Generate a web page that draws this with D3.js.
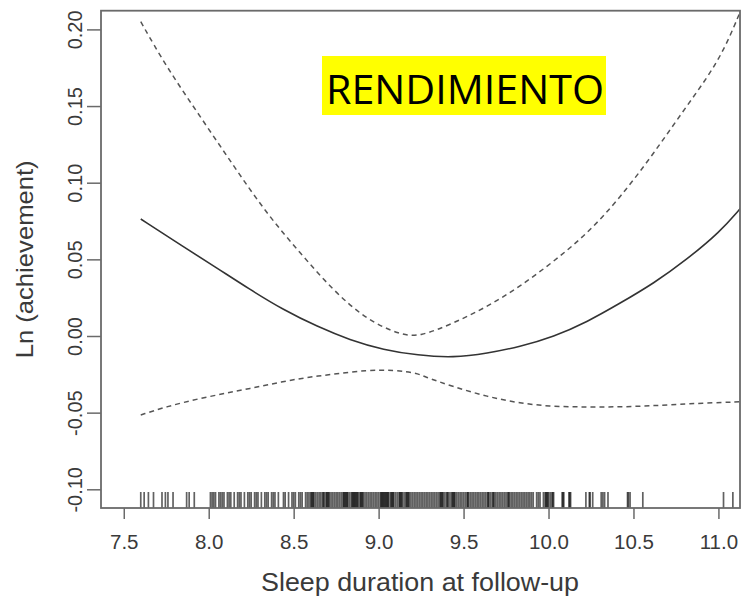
<!DOCTYPE html>
<html>
<head>
<meta charset="utf-8">
<script src="https://cdn.jsdelivr.net/npm/d3@7"></script>
<style>
  body { margin: 0; background: #fff; }
  svg { display: block; }
  .tick-label { font-family: "Liberation Sans", Arial, sans-serif; fill: #3a3a3a; }
</style>
</head>
<body>
<div id="chart"></div>
<script>
// fitted spline and confidence band
const fitX   = [7.60, 7.85, 8.05, 8.24, 8.44, 8.64, 8.83, 9.03, 9.23, 9.44, 9.64, 9.83, 10.03, 10.23, 10.42, 10.62, 10.81, 11.01, 11.13];
const fitY   = [0.0763, 0.0583, 0.0442, 0.0305, 0.0170, 0.0061, -0.0026, -0.0091, -0.0126, -0.0142, -0.0113, -0.0070, -0.0005, 0.0093, 0.0213, 0.0344, 0.0496, 0.0680, 0.0833];
const upperX = [7.60, 7.75, 7.95, 8.15, 8.34, 8.54, 8.73, 8.93, 9.13, 9.24, 9.44, 9.64, 9.83, 10.03, 10.23, 10.42, 10.62, 10.81, 11.01, 11.13];
const upperY = [0.2050, 0.1757, 0.1431, 0.1104, 0.0800, 0.0539, 0.0300, 0.0104, 0.0007, -0.0005, 0.0083, 0.0191, 0.0322, 0.0485, 0.0670, 0.0900, 0.1192, 0.1496, 0.1800, 0.2120];
const lowerX = [7.60, 7.75, 7.95, 8.15, 8.34, 8.54, 8.73, 8.93, 9.09, 9.23, 9.26, 9.44, 9.64, 9.83, 10.03, 10.23, 10.42, 10.62, 10.81, 11.13];
const lowerY = [-0.0515, -0.0461, -0.0406, -0.0363, -0.0320, -0.0275, -0.0250, -0.0222, -0.0222, -0.0243, -0.0262, -0.0331, -0.0396, -0.0439, -0.0461, -0.0463, -0.0463, -0.0455, -0.0442, -0.0429];

// rug of observed sleep durations
const rugValues = [
  7.60, 7.62, 7.645, 7.675, 7.725, 7.745, 7.76, 7.79, 7.87, 7.885, 7.915,
  8.01, 8.03, 8.04, 8.06, 8.07, 8.09, 8.11, 8.13, 8.15, 8.17, 8.19, 8.21, 8.23, 8.25,
  8.27, 8.29, 8.31, 8.33, 8.35, 8.37, 8.39, 8.41, 8.45, 8.47, 8.49, 8.51, 8.53, 8.55,
  8.57, 8.59, 8.60, 8.61, 8.62, 8.64, 8.66, 8.67, 8.68, 8.70, 8.71, 8.73, 8.75, 8.77,
  8.79, 8.80, 8.81, 8.82, 8.83, 8.85, 8.86, 8.87, 8.89, 8.90, 8.91, 8.93, 8.95, 8.97,
  8.99, 9.01, 9.02, 9.03, 9.04, 9.05, 9.07, 9.08, 9.10, 9.12, 9.13, 9.14, 9.16, 9.17,
  9.18, 9.20, 9.22, 9.24, 9.26, 9.28, 9.30, 9.32, 9.34, 9.36, 9.37, 9.38, 9.40, 9.41,
  9.43, 9.44, 9.45, 9.47, 9.49, 9.50, 9.52, 9.53, 9.55, 9.56, 9.58, 9.60, 9.62, 9.64,
  9.65, 9.67, 9.68, 9.70, 9.72, 9.74, 9.76, 9.77, 9.79, 9.81, 9.83, 9.85, 9.87, 9.89,
  9.90, 9.93, 9.95, 9.97, 9.99, 9.995, 10.00, 10.02, 10.03, 10.08, 10.09, 10.12, 10.13,
  10.22, 10.24, 10.26, 10.31, 10.33, 10.35, 10.465, 10.48, 10.555, 11.03, 11.085,
  // repeated durations (darker bands)
  8.02, 8.08, 8.12, 8.18, 8.24, 8.28, 8.34, 8.38, 8.44, 8.50, 8.54, 8.58,
  8.605, 8.615, 8.63, 8.65, 8.675, 8.69, 8.695, 8.705, 8.72, 8.74, 8.76, 8.78,
  8.795, 8.805, 8.815, 8.84, 8.845, 8.855, 8.865, 8.875, 8.88, 8.895, 8.905, 8.92,
  8.94, 8.96, 8.98, 9.00, 9.015, 9.025, 9.035, 9.045, 9.055, 9.06, 9.075, 9.085,
  9.09, 9.11, 9.125, 9.135, 9.15, 9.165, 9.175, 9.19, 9.21, 9.23, 9.25, 9.27,
  9.29, 9.31, 9.33, 9.35, 9.365, 9.375, 9.39, 9.405, 9.42, 9.435, 9.445, 9.46,
  9.48, 9.51, 9.525, 9.54, 9.57, 9.59, 9.61, 9.63, 9.645, 9.66, 9.675, 9.69,
  9.71, 9.73, 9.75, 9.765, 9.78, 9.80, 9.82, 9.84, 9.86, 9.88, 9.91, 9.94,
  9.98, 9.985, 10.01, 10.025, 10.085, 10.125, 10.245, 10.32, 10.47
];

const xTicks = [7.5, 8.0, 8.5, 9.0, 9.5, 10.0, 10.5, 11.0];
const yTicks = [-0.10, -0.05, 0.00, 0.05, 0.10, 0.15, 0.20];
const xTitle = "Sleep duration at follow-up";
const yTitle = "Ln (achievement)";
const label = "RENDIMIENTO";

const margin = { top: 10.7, right: 4, bottom: 89, left: 101 };
const width = 744 - margin.left - margin.right;
const height = 597 - margin.top - margin.bottom;

const svg = d3.select("#chart")
  .append("svg")
  .attr("width", 744)
  .attr("height", 597);

const g = svg.append("g")
  .attr("transform", `translate(${margin.left},${margin.top})`);

const x = d3.scaleLinear().domain([7.366, 11.127]).range([0, width]);
const y = d3.scaleLinear().domain([-0.1122, 0.2122]).range([height, 0]);

svg.append("defs").append("clipPath")
  .attr("id", "plot-clip")
  .append("rect")
  .attr("width", width)
  .attr("height", height);

// x axis
const xAxis = g.append("g")
  .attr("transform", `translate(0,${height})`)
  .call(d3.axisBottom(x).tickValues(xTicks).tickSize(11).tickPadding(15)
    .tickFormat(d3.format(".1f")));
xAxis.select(".domain").remove();
xAxis.selectAll("line").attr("stroke", "#6a6a6a").attr("stroke-width", 1.5);
xAxis.selectAll("text")
  .attr("class", "tick-label")
  .attr("font-size", 20.5)
  .attr("fill", "#3a3a3a");

// y axis, labels rotated like R's default
const yAxis = g.append("g")
  .call(d3.axisLeft(y).tickValues(yTicks).tickSize(14)
    .tickFormat(d => d.toFixed(2).replace("\u2212", "-")));
yAxis.select(".domain").remove();
yAxis.selectAll("line").attr("stroke", "#6a6a6a").attr("stroke-width", 1.5);
yAxis.selectAll("text")
  .attr("class", "tick-label")
  .attr("font-size", 20)
  .attr("fill", "#3a3a3a")
  .attr("text-anchor", "middle")
  .attr("x", null)
  .attr("dy", null)
  .attr("transform", "translate(-19,0) rotate(-90)");

// rug
g.append("g")
  .selectAll("line")
  .data(rugValues)
  .join("line")
  .attr("x1", d => x(d))
  .attr("x2", d => x(d))
  .attr("y1", height)
  .attr("y2", height - 16)
  .attr("stroke", "#000")
  .attr("stroke-opacity", 0.62)
  .attr("stroke-width", 1.7);

const plot = g.append("g").attr("clip-path", "url(#plot-clip)");

const line = d3.line()
  .x(d => x(d[0]))
  .y(d => y(d[1]))
  .curve(d3.curveBasis);

plot.append("path")
  .datum(d3.zip(upperX, upperY))
  .attr("fill", "none")
  .attr("stroke", "#555")
  .attr("stroke-width", 1.5)
  .attr("stroke-dasharray", "5,4")
  .attr("d", line);

plot.append("path")
  .datum(d3.zip(lowerX, lowerY))
  .attr("fill", "none")
  .attr("stroke", "#555")
  .attr("stroke-width", 1.5)
  .attr("stroke-dasharray", "5,4")
  .attr("d", line);

plot.append("path")
  .datum(d3.zip(fitX, fitY))
  .attr("fill", "none")
  .attr("stroke", "#333")
  .attr("stroke-width", 1.6)
  .attr("d", line);

// frame
g.append("rect")
  .attr("width", width)
  .attr("height", height)
  .attr("fill", "none")
  .attr("stroke", "#6a6a6a")
  .attr("stroke-width", 1.8);

// axis titles
svg.append("text")
  .attr("x", margin.left + width / 2 - 0.5)
  .attr("y", 591)
  .attr("text-anchor", "middle")
  .attr("font-family", "Liberation Sans, Arial, sans-serif")
  .attr("font-size", 25)
  .attr("fill", "#3a3a3a")
  .attr("textLength", 318)
  .attr("lengthAdjust", "spacingAndGlyphs")
  .text(xTitle);

svg.append("text")
  .attr("transform", `translate(33,${margin.top + height / 2}) rotate(-90)`)
  .attr("text-anchor", "middle")
  .attr("font-family", "Liberation Sans, Arial, sans-serif")
  .attr("font-size", 24)
  .attr("fill", "#3a3a3a")
  .attr("textLength", 198)
  .attr("lengthAdjust", "spacingAndGlyphs")
  .text(yTitle);

// highlighted label
svg.append("rect")
  .attr("x", 322)
  .attr("y", 56)
  .attr("width", 284)
  .attr("height", 59)
  .attr("fill", "#ffff00");

svg.append("text")
  .attr("x", 326)
  .attr("y", 103.5)
  .attr("font-family", "'Open Sans', Lato, sans-serif")
  .attr("font-size", 41)
  .attr("fill", "#000")
  .attr("textLength", 278)
  .attr("lengthAdjust", "spacingAndGlyphs")
  .text(label);
</script>
</body>
</html>
